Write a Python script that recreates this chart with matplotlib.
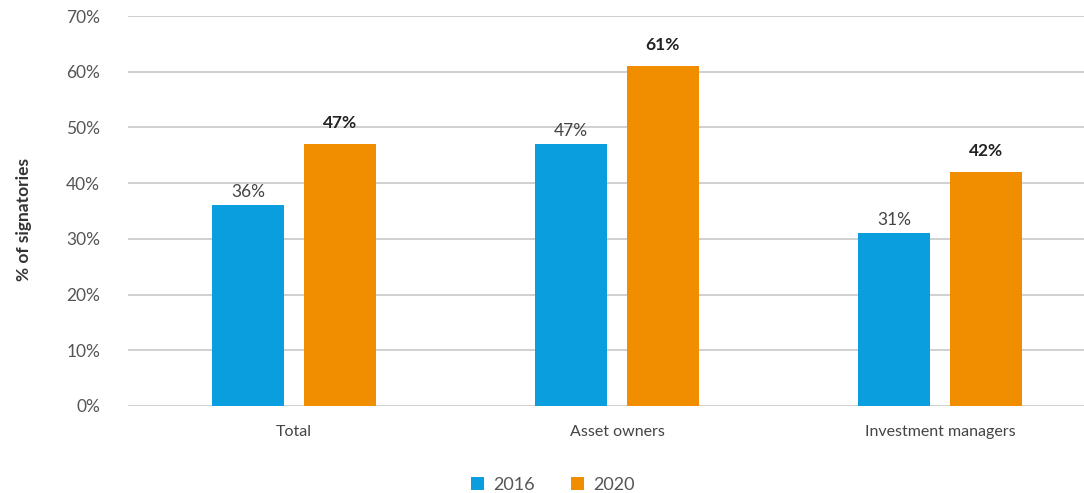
import matplotlib
matplotlib.use("Agg")
import matplotlib.pyplot as plt
import numpy as np

plt.rcParams["font.family"] = ["Lato", "DejaVu Sans"]

categories = ["Total", "Asset owners", "Investment managers"]
years = ["2016", "2020"]
values_2016 = [36, 47, 31]
values_2020 = [47, 61, 42]
yticks = [0, 10, 20, 30, 40, 50, 60, 70]

blue = "#0a9ede"
orange = "#f18e00"
grey_text = "#555555"
grid_col = "#c8c8c8"

fig = plt.figure(figsize=(10.84, 4.93), dpi=100)
ax = fig.add_axes([0.118, 0.1765, 0.882, 0.791])

x = np.arange(len(categories))
w = 0.222
off = 0.142
ax.bar(x - off, values_2016, width=w, color=blue, label=years[0], zorder=3)
ax.bar(x + off, values_2020, width=w, color=orange, label=years[1], zorder=3)

for xi, v in zip(x, values_2016):
    ax.text(xi - off, v + 0.9, f"{v}%", ha="center", va="bottom",
            fontsize=12.5, color="#444444")
for xi, v in zip(x, values_2020):
    ax.text(xi + off, v + 2.4, f"{v}%", ha="center", va="bottom",
            fontsize=12.5, color="#222222", fontweight="bold")

ax.set_xlim(-0.514, 2.446)
ax.set_ylim(0, 70)
ax.set_yticks(yticks)
ax.set_yticklabels([f"{t}%" for t in yticks])
ax.set_xticks(x)
ax.set_xticklabels(categories)
ax.tick_params(axis="y", length=0, labelsize=12.5, labelcolor=grey_text, pad=20)
ax.tick_params(axis="x", length=0, labelsize=11.5, labelcolor="#444444", pad=14)
ax.yaxis.grid(True, color=grid_col, linewidth=1.2, zorder=0)
ax.set_axisbelow(True)
for s in ax.spines.values():
    s.set_visible(False)

fig.text(0.022, 0.555, "% of signatories", rotation=90, ha="center", va="center",
         fontsize=12.5, fontweight="bold", color="#333333")

leg = fig.legend(loc="center", bbox_to_anchor=(0.51, 0.017), ncol=2, frameon=False,
                 fontsize=13, handlelength=0.75, handleheight=0.75, columnspacing=2.0,
                 handletextpad=0.5)
for t in leg.get_texts():
    t.set_color(grey_text)

fig.savefig("out.png", dpi=100)
